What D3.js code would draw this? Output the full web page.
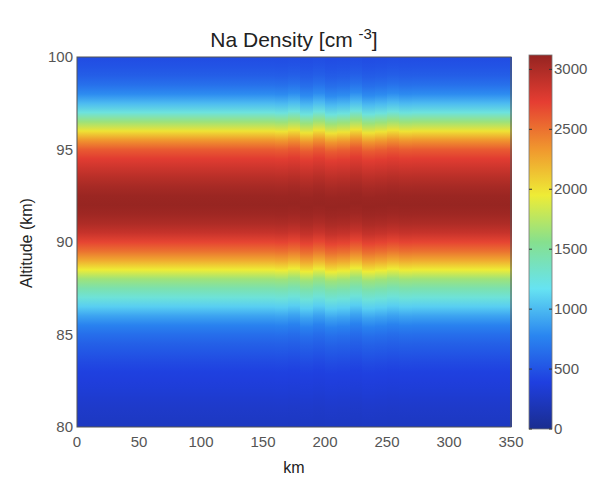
<!DOCTYPE html>
<html>
<head>
<meta charset="utf-8">
<script src="https://cdn.jsdelivr.net/npm/d3@7"></script>
<style>
  body { margin: 0; background: #fff; }
  text { font-family: "Liberation Sans", Arial, sans-serif; }
</style>
</head>
<body>
<svg id="chart" width="599" height="481"></svg>
<script>
// Altitude grid (km) of the sodium profile.
const altitudes = [80, 80.5, 81, 81.5, 82, 82.5, 83, 83.5, 84, 84.5, 85, 85.5, 86, 86.5, 87, 87.5,
  88, 88.5, 89, 89.5, 90, 90.5, 91, 91.5, 92, 92.5, 93, 93.5, 94, 94.5, 95, 95.5, 96, 96.5,
  97, 97.5, 98, 98.5, 99, 99.5, 100];
// Na density (cm^-3) at each altitude.
const density = [240, 260, 280, 310, 340, 370, 400, 450, 510, 570, 650, 760, 900, 1080, 1270, 1440,
  1650, 1950, 2250, 2500, 2700, 2880, 3000, 3070, 3110, 3090, 3030, 2950, 2850, 2750, 2600, 2340,
  1990, 1640, 1250, 1000, 800, 660, 560, 500, 460];
// Horizontal columns (left edge, km) and the small vertical shift of the layer in each (km).
const columnKm = [0, 10, 20, 30, 40, 50, 60, 70, 80, 90, 100, 110, 120, 130, 140, 150, 160, 170,
  180, 190, 200, 210, 220, 230, 240, 250, 260, 270, 280, 290, 300, 310, 320, 330, 340];
const columnShift = [0, 0, 0, 0, 0, 0, 0, 0, 0, 0, 0, 0, 0, 0, 0, 0, 0.03, -0.05,
  0.1, -0.04, 0.12, 0.06, -0.08, 0.1, 0.04, -0.04, 0.02, 0, 0, 0, 0, 0, 0, 0, 0];
// Axis ticks.
const xTicks = [0, 50, 100, 150, 200, 250, 300, 350];
const yTicks = [80, 85, 90, 95, 100];
const cTicks = [0, 500, 1000, 1500, 2000, 2500, 3000];
const cMax = 3120;

// Muted jet colour map.
const jetColors = ["#1a2d8f", "#1f3fe0", "#2a86f0", "#66e3f2", "#86e08e", "#eeec36", "#f0962e", "#e53d32", "#952421"];

const svg = d3.select("#chart");
const defs = svg.append("defs");

const x = d3.scaleLinear().domain([0, 350]).range([77, 511]);
const y = d3.scaleLinear().domain([80, 100]).range([427, 57]);
const color = d3.scaleLinear()
  .domain(jetColors.map((c, i) => i / (jetColors.length - 1) * cMax))
  .range(jetColors)
  .interpolate(d3.interpolateRgb);

// One vertical gradient per column.
columnKm.forEach(function (km, i) {
  const s = columnShift[i];
  const g = defs.append("linearGradient")
    .attr("id", "col" + i)
    .attr("gradientUnits", "userSpaceOnUse")
    .attr("x1", 0).attr("x2", 0)
    .attr("y1", y(80 - s)).attr("y2", y(100 - s));
  altitudes.forEach(function (a, j) {
    g.append("stop")
      .attr("offset", (a - 80) / 20)
      .attr("stop-color", color(density[j]));
  });
});

svg.append("g")
  .attr("shape-rendering", "crispEdges")
  .selectAll("rect")
  .data(columnKm)
  .enter()
  .append("rect")
  .attr("x", d => x(d))
  .attr("y", y(100))
  .attr("width", d => x(Math.min(d + 10, 350)) - x(d) + 1)
  .attr("height", y(80) - y(100))
  .attr("fill", (d, i) => "url(#col" + i + ")");

// Plot frame.
svg.append("rect")
  .attr("x", x(0)).attr("y", y(100))
  .attr("width", x(350) - x(0)).attr("height", y(80) - y(100))
  .attr("fill", "none").attr("stroke", "#555").attr("stroke-width", 1);

// Tick labels.
svg.append("g").selectAll("text")
  .data(xTicks).enter().append("text")
  .attr("x", d => x(d)).attr("y", 447)
  .attr("text-anchor", "middle")
  .attr("font-size", 15).attr("fill", "#555")
  .text(d => d);

svg.append("g").selectAll("text")
  .data(yTicks).enter().append("text")
  .attr("x", 73).attr("y", d => y(d) + 5)
  .attr("text-anchor", "end")
  .attr("font-size", 15).attr("fill", "#555")
  .text(d => d);

// Axis labels and title.
svg.append("text")
  .attr("x", 294).attr("y", 473)
  .attr("text-anchor", "middle").attr("font-size", 16).attr("fill", "#222")
  .text("km");

svg.append("text")
  .attr("transform", "translate(32,243) rotate(-90)")
  .attr("text-anchor", "middle").attr("font-size", 16).attr("fill", "#222")
  .text("Altitude (km)");

const title = svg.append("text")
  .attr("x", 294).attr("y", 47)
  .attr("text-anchor", "middle").attr("font-size", 21).attr("fill", "#222");
title.append("tspan").text("Na Density [cm ");
title.append("tspan").attr("dy", -8).attr("font-size", 15).text("-3");
title.append("tspan").attr("dy", 8).text("]");

// Colour bar.
const cy = d3.scaleLinear().domain([0, cMax]).range([429, 55]);
const cg = defs.append("linearGradient")
  .attr("id", "cbar")
  .attr("x1", 0).attr("x2", 0).attr("y1", 1).attr("y2", 0);
color.domain().forEach(function (v) {
  cg.append("stop").attr("offset", v / cMax).attr("stop-color", color(v));
});
svg.append("rect")
  .attr("x", 529).attr("y", cy(cMax))
  .attr("width", 23).attr("height", cy(0) - cy(cMax))
  .attr("fill", "url(#cbar)")
  .attr("stroke", "#777").attr("stroke-width", 0.8);

const ct = svg.append("g").selectAll("g")
  .data(cTicks).enter().append("g");
ct.append("line")
  .attr("x1", 529).attr("x2", 532)
  .attr("y1", d => cy(d)).attr("y2", d => cy(d))
  .attr("stroke", "#333");
ct.append("line")
  .attr("x1", 549).attr("x2", 552)
  .attr("y1", d => cy(d)).attr("y2", d => cy(d))
  .attr("stroke", "#333");
ct.append("text")
  .attr("x", 554).attr("y", d => cy(d) + 5)
  .attr("font-size", 15).attr("fill", "#555")
  .text(d => d);
</script>
</body>
</html>
